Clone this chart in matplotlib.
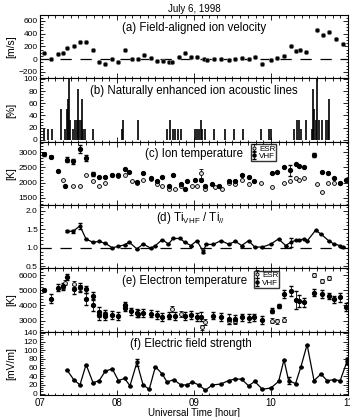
import matplotlib
matplotlib.use('Agg')
import matplotlib.pyplot as plt
from matplotlib.ticker import MultipleLocator, FormatStrFormatter
import numpy as np

plt.rcParams['font.family'] = ['Liberation Sans', 'DejaVu Sans']
plt.rcParams['mathtext.fontset'] = 'custom'
plt.rcParams['mathtext.rm'] = 'Liberation Sans'

# (a) field-aligned ion velocity [m/s]
t_vel = [7.05, 7.14, 7.23, 7.30, 7.35, 7.44, 7.52, 7.60, 7.69, 7.77, 7.85, 7.94,
         8.02, 8.10, 8.19, 8.28, 8.35, 8.44, 8.52, 8.60, 8.68, 8.72, 8.81, 8.88,
         8.96, 9.04, 9.13, 9.17, 9.26, 9.35, 9.45, 9.54, 9.63, 9.71, 9.79, 9.89,
         10.00, 10.08, 10.17, 10.26, 10.33, 10.38, 10.45, 10.60, 10.68, 10.75,
         10.84, 10.93]
vel = [100, 10, 80, 90, 180, 200, 270, 270, 140, -50, -70, 10,
       -40, 150, 0, 0, 70, 20, -30, -30, -50, -40, 30, 90,
       30, 30, 10, -20, 0, 0, -10, -5, 20, -5, 30, -70,
       -20, 20, 50, 200, 120, 140, 110, 460, 370, 430,
       310, 240]

# (b) naturally enhanced ion acoustic lines [%]
t_nail = [7.05, 7.10, 7.16, 7.27, 7.32, 7.35, 7.36, 7.38, 7.39, 7.43, 7.46, 7.48,
          7.49, 7.51, 7.53, 7.55, 7.56, 7.58, 7.69, 8.07, 8.08, 8.28, 8.65, 8.69,
          8.73, 8.76, 8.79, 8.83, 9.02, 9.04, 9.06, 9.09, 9.11, 9.15, 9.26, 9.41,
          9.52, 9.64, 9.87, 9.97, 10.00, 10.30, 10.34, 10.36, 10.39, 10.45, 10.53,
          10.55, 10.56, 10.58, 10.60, 10.62, 10.67, 10.71, 10.74, 10.76]
nail = [17, 17, 17, 50, 17, 50, 67, 100, 33, 17, 33, 33,
        83, 33, 33, 67, 17, 17, 17, 17, 33, 33, 17, 33,
        17, 17, 17, 17, 17, 17, 17, 33, 17, 17, 17, 17,
        17, 17, 17, 17, 17, 17, 33, 33, 17, 33, 17,
        83, 50, 33, 100, 33, 33, 33, 33, 67]

# (c) ion temperature [K]
t_ti_esr = [7.05, 7.14, 7.30, 7.43, 7.52, 7.60, 7.69, 7.77, 7.85, 7.94, 8.02, 8.10,
            8.19, 8.26, 8.34, 8.44, 8.52, 8.59, 8.68, 8.76, 8.83, 8.97, 9.04, 9.09,
            9.15, 9.28, 9.37, 9.45, 9.54, 9.62, 9.71, 9.87, 10.01, 10.17, 10.25,
            10.32, 10.36, 10.43, 10.60, 10.66, 10.74, 10.82, 10.90]
ti_esr = [2950, 2850, 2100, 1900, 1900, 2250, 2050, 1900, 2000, 2240, 2230, 2250,
          2050, 2000, 2100, 2130, 1950, 1900, 1800, 1800, 1900, 1900, 1900, 2300,
          1800, 1850, 1800, 2000, 1950, 2100, 1950, 2000, 1850, 2000, 2050,
          2150, 2100, 2150, 1950, 1700, 2000, 2000, 2000]
ti_esr_err = [60, 60, 0, 0, 0, 0, 0, 0, 0, 0, 0, 0,
              0, 0, 0, 0, 0, 0, 0, 0, 0, 0, 0, 150,
              0, 0, 0, 0, 0, 0, 0, 0, 0, 0, 0,
              0, 0, 0, 0, 0, 0, 0, 0]
t_ti_vhf = [7.05, 7.14, 7.23, 7.33, 7.35, 7.43, 7.52, 7.60, 7.69, 7.77, 7.85, 7.94,
            8.02, 8.10, 8.16, 8.26, 8.34, 8.44, 8.52, 8.59, 8.68, 8.73, 8.83, 8.88,
            8.91, 9.02, 9.09, 9.15, 9.24, 9.32, 9.45, 9.54, 9.62, 9.71, 9.78, 10.01,
            10.08, 10.17, 10.25, 10.32, 10.36, 10.43, 10.56, 10.66, 10.74, 10.82,
            10.90, 10.97]
ti_vhf = [2920, 2830, 2370, 1900, 2750, 2700, 3100, 2800, 2280, 2200, 2200, 2250,
          2250, 2450, 2350, 2020, 2300, 2150, 2050, 2200, 1900, 2250, 1950, 1800,
          2050, 2100, 2100, 1900, 1950, 1900, 2050, 2050, 2250, 2200, 2050, 2300,
          2350, 2500, 2400, 2600, 2550, 2500, 2900, 2350, 2300, 2150,
          1980, 2100]
ti_vhf_err = [60, 0, 0, 0, 80, 80, 120, 100, 60, 0, 0, 0,
              0, 0, 0, 0, 0, 0, 0, 0, 0, 0, 0, 0,
              0, 0, 0, 0, 0, 0, 0, 0, 0, 0, 0, 0,
              0, 0, 180, 0, 0, 0, 60, 0, 0, 0,
              0, 0]

# (d) Ti_VHF / Ti_par
t_ratio = [7.35, 7.43, 7.52, 7.60, 7.69, 7.77, 7.85, 7.94, 8.02, 8.10, 8.16, 8.26,
           8.34, 8.44, 8.50, 8.59, 8.67, 8.73, 8.82, 8.88, 8.96, 9.04, 9.12, 9.16,
           9.25, 9.35, 9.45, 9.54, 9.62, 9.71, 9.79, 9.89, 10.00, 10.10, 10.19,
           10.26, 10.32, 10.36, 10.43, 10.47, 10.58, 10.65, 10.75, 10.82, 10.90, 10.93]
ratio = [1.45, 1.44, 1.59, 1.23, 1.15, 1.17, 1.12, 1.00, 1.04, 1.08, 1.15, 0.97,
         1.10, 0.99, 1.06, 1.22, 1.10, 1.25, 1.25, 1.15, 1.06, 1.19, 0.90, 1.09,
         1.09, 1.19, 1.10, 1.17, 1.06, 1.19, 1.02, 1.02, 1.10, 1.24, 1.06,
         1.15, 1.20, 1.20, 1.24, 1.18, 1.47, 1.37, 1.19, 1.10, 1.06, 1.03]
ratio_err = [0.03, 0.03, 0.08, 0, 0, 0, 0, 0, 0, 0, 0, 0,
             0, 0, 0, 0, 0, 0, 0, 0, 0, 0, 0.04, 0,
             0, 0, 0, 0, 0, 0, 0, 0, 0, 0, 0,
             0.12, 0, 0, 0, 0, 0.02, 0, 0, 0, 0, 0]

# (e) electron temperature [K]
t_te_esr = [7.05, 7.30, 7.33, 7.44, 7.52, 8.72, 8.83, 9.11, 9.15, 9.45, 9.54,
            10.01, 10.08, 10.17, 10.56, 10.66, 10.75]
te_esr = [5000, 5200, 5500, 5400, 5150, 3750, 3450, 2550, 2900, 2950, 2950,
          3000, 2950, 3050, 6000, 5600, 5800]
te_esr_err = [80, 150, 150, 200, 200, 200, 200, 150, 200, 150, 150,
              150, 150, 150, 150, 150, 150]
t_te_vhf = [7.05, 7.14, 7.23, 7.30, 7.35, 7.44, 7.52, 7.60, 7.60, 7.69, 7.69,
            7.77, 7.77, 7.85, 7.85, 7.94, 8.02, 8.10, 8.10, 8.18, 8.26, 8.28,
            8.34, 8.44, 8.52, 8.59, 8.68, 8.76, 8.88, 8.96, 9.04, 9.09, 9.25,
            9.35, 9.45, 9.54, 9.62, 9.71, 9.78, 9.89, 10.01, 10.10, 10.17, 10.26,
            10.32, 10.36, 10.43, 10.56, 10.66, 10.75, 10.82, 10.90, 10.97]
te_vhf = [5000, 4450, 5170, 5250, 5900, 5050, 5200, 5050, 4450, 4650, 4000,
          3550, 3350, 3450, 3300, 3350, 3300, 4000, 3850, 3600, 3500, 3450,
          3500, 3450, 3350, 3250, 3330, 3300, 3280, 3350, 3250, 3250, 3330,
          3250, 3100, 3100, 3200, 3150, 3200, 3050, 3650, 3950, 4750, 4950,
          4350, 4300, 4200, 4850, 4750, 4600, 4400, 4550, 3900]
te_vhf_err = [80, 300, 250, 250, 200, 300, 300, 250, 400, 250, 350,
              350, 300, 250, 250, 250, 250, 200, 200, 250, 250, 250,
              250, 250, 250, 250, 250, 250, 250, 250, 250, 300, 250,
              250, 300, 250, 250, 250, 250, 250, 150, 150, 250, 300,
              600, 400, 300, 250, 250, 200, 250, 300, 250]

# (f) electric field strength [mV/m]
t_ef = [7.35, 7.44, 7.52, 7.60, 7.69, 7.77, 7.85, 7.94, 8.02, 8.10, 8.17, 8.26,
        8.34, 8.42, 8.50, 8.59, 8.65, 8.74, 8.83, 8.91, 8.98, 9.06, 9.15, 9.24,
        9.35, 9.45, 9.54, 9.62, 9.71, 9.79, 9.89, 10.00, 10.10, 10.17, 10.23,
        10.32, 10.39, 10.47, 10.56, 10.65, 10.73, 10.82, 10.90, 10.99]
ef = [55, 32, 20, 67, 25, 30, 52, 57, 30, 35, 18, 72,
      20, 10, 62, 45, 27, 32, 20, 20, 27, 20, 8, 20,
      22, 30, 34, 33, 18, 28, 10, 13, 28, 78, 30,
      23, 62, 113, 30, 45, 30, 32, 30, 75]
ef_err = [0, 0, 0, 0, 0, 0, 0, 0, 0, 0, 0, 8,
          0, 0, 0, 0, 0, 0, 0, 0, 0, 0, 0, 0,
          0, 0, 0, 0, 0, 0, 0, 0, 0, 0, 9,
          0, 0, 0, 0, 0, 0, 0, 0, 6]

hour_ticks = [7, 8, 9, 10, 11]
hour_labels = ['07', '08', '09', '10', '11']

fig = plt.figure(figsize=(3.5, 4.17), dpi=100)
axs = fig.subplots(6, 1, sharex=True)
fig.subplots_adjust(left=0.114, right=0.994, top=0.964, bottom=0.053, hspace=0)

for ax in axs:
    ax.tick_params(which='both', direction='in', top=True, right=True,
                   labelsize=6, pad=1.5, width=0.6)
    ax.tick_params(which='major', length=3.5)
    ax.tick_params(which='minor', length=1.8)
    ax.xaxis.set_minor_locator(MultipleLocator(0.1))
    for s in ax.spines.values():
        s.set_linewidth(0.8)
    ax.set_xlim(7, 11)

lab = dict(fontsize=8.3, ha='center', va='center')
ylab = dict(fontsize=7.5, labelpad=2)
dash = dict(color='k', lw=0.9, ls=(0, (9, 7)))
leg = dict(loc='upper left', fontsize=5.8, frameon=True, fancybox=False,
           edgecolor='k', handlelength=0.6, handletextpad=0.3, borderpad=0.1,
           labelspacing=0.0, borderaxespad=0, markerscale=0.8)

# (a)
ax = axs[0]
ax.axhline(0, **dash)
ax.plot(t_vel, vel, 'o', ms=3.2, mfc='k', mec='0.45', mew=0.5)
ax.set_ylim(-300, 690)
ax.yaxis.set_major_locator(MultipleLocator(200))
ax.yaxis.set_minor_locator(MultipleLocator(50))
ax.set_ylabel('[m/s]', **ylab)
ax.text(0.5, 0.8, '(a) Field-aligned ion velocity', transform=ax.transAxes, **lab)
ax.set_title('July 6, 1998', fontsize=7, pad=2)

# (b)
ax = axs[1]
ax.vlines(t_nail, 0, nail, color='k', lw=1.2)
ax.set_ylim(-3, 101)
ax.yaxis.set_major_locator(MultipleLocator(20))
ax.yaxis.set_minor_locator(MultipleLocator(5))
ax.set_ylabel('[%]', **ylab)
ax.text(0.5, 0.8, '(b) Naturally enhanced ion acoustic lines', transform=ax.transAxes, **lab)

# (c)
ax = axs[2]
ax.errorbar(t_ti_esr, ti_esr, yerr=ti_esr_err, fmt='o', ms=2.8, mfc='0.85', mec='k',
            mew=0.6, ecolor='k', elinewidth=0.6, capsize=1.3, label='ESR')
ax.errorbar(t_ti_vhf, ti_vhf, yerr=ti_vhf_err, fmt='o', ms=2.8, mfc='k', mec='k',
            ecolor='k', elinewidth=0.6, capsize=1.3, label='VHF')
ax.set_ylim(1270, 3340)
ax.yaxis.set_major_locator(MultipleLocator(500))
ax.yaxis.set_minor_locator(MultipleLocator(100))
ax.set_ylabel('[K]', **ylab)
ax.text(0.5, 0.8, '(c) Ion temperature', transform=ax.transAxes, **lab)
ax.legend(bbox_to_anchor=(0.685, 0.96), **leg)

# (d)
ax = axs[3]
ax.axhline(1.0, **dash)
ax.errorbar(t_ratio, ratio, yerr=ratio_err, fmt='-o', color='k', lw=0.9, ms=2,
            elinewidth=0.6, capsize=1.3)
ax.set_ylim(0.45, 2.15)
ax.yaxis.set_major_locator(MultipleLocator(0.5))
ax.yaxis.set_minor_locator(MultipleLocator(0.1))
ax.yaxis.set_major_formatter(FormatStrFormatter('%.1f'))
ax.text(0.49, 0.8, r'(d) Ti$_{\mathregular{VHF}}$ / Ti$_{\mathregular{//}}$',
        transform=ax.transAxes, **lab)

# (e)
ax = axs[4]
ax.errorbar(t_te_esr, te_esr, yerr=te_esr_err, fmt='o', ms=2.8, mfc='0.85', mec='k',
            mew=0.6, ecolor='k', elinewidth=0.6, capsize=1.3, label='ESR')
ax.errorbar(t_te_vhf, te_vhf, yerr=te_vhf_err, fmt='o', ms=2.8, mfc='k', mec='k',
            ecolor='k', elinewidth=0.6, capsize=1.3, label='VHF')
ax.set_ylim(2270, 6450)
ax.yaxis.set_major_locator(MultipleLocator(1000))
ax.yaxis.set_minor_locator(MultipleLocator(200))
ax.set_ylabel('[K]', **ylab)
ax.text(0.47, 0.8, '(e) Electron temperature', transform=ax.transAxes, **lab)
ax.legend(bbox_to_anchor=(0.695, 0.96), **leg)

# (f)
ax = axs[5]
ax.errorbar(t_ef, ef, yerr=ef_err, fmt='-o', color='k', lw=0.9, ms=2.2,
            elinewidth=0.6, capsize=1.3)
ax.set_ylim(-3, 143)
ax.yaxis.set_major_locator(MultipleLocator(20))
ax.yaxis.set_minor_locator(MultipleLocator(5))
ax.set_ylabel('[mV/m]', **ylab)
ax.text(0.49, 0.8, '(f) Electric field strength', transform=ax.transAxes, **lab)
ax.set_xticks(hour_ticks)
ax.set_xticklabels(hour_labels)
ax.tick_params(axis='x', labelsize=7, pad=2)
ax.set_xlabel('Universal Time [hour]', fontsize=7, labelpad=0)

fig.align_ylabels(axs)
fig.savefig('out.png', dpi=100)
